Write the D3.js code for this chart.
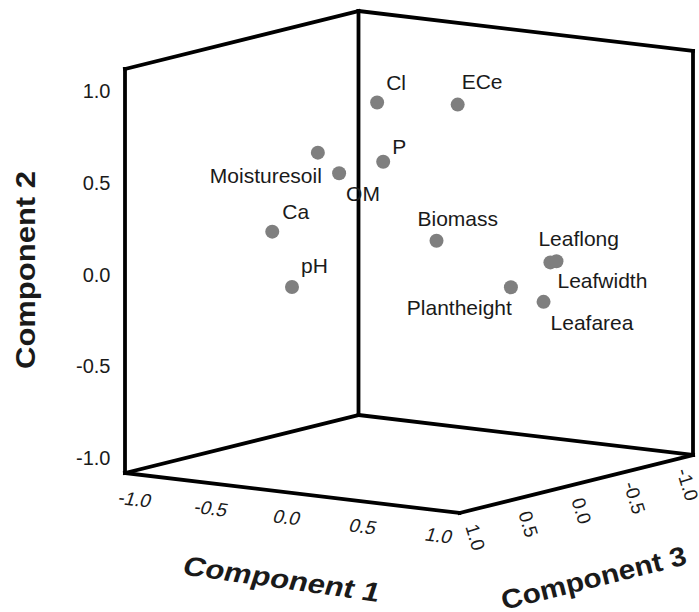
<!DOCTYPE html>
<html>
<head>
<meta charset="utf-8">
<script src="https://cdn.jsdelivr.net/npm/d3@7"></script>
<style>
  body { margin: 0; background: #fff; }
  text { font-family: "Liberation Sans", Arial, sans-serif; fill: #1a1a1a; }
</style>
</head>
<body>
<div id="chart"></div>
<script>
// component loadings
const variables  = ["Cl", "ECe", "Moisturesoil", "OM", "P", "Ca", "pH", "Biomass", "Leaflong", "Leafwidth", "Plantheight", "Leafarea"];
const component1 = [-0.07, 0.39, -0.39, -0.32, -0.10, -0.69, -0.63, 0.53, 0.93, 0.97, 0.74, 0.85];
const component2 = [0.89, 0.91, 0.60, 0.48, 0.55, 0.14, -0.17, 0.24, 0.09, 0.10, -0.05, -0.14];
const component3 = [0.20, 0.10, 0.30, 0.20, 0.10, 0.30, 0.20, 0.50, 0.00, 0.00, 0.10, -0.05];
const tickValues = [-1.0, -0.5, 0.0, 0.5, 1.0];

// where each label sits next to its dot: [anchor, dx, dy]
const labelPlacement = [
  ["start", 9, -13], ["start", 4, -16], ["end", 4, 30], ["start", 7, 28],
  ["start", 9, -8], ["start", 10, -13], ["start", 9, -14], ["start", -19, -15],
  ["start", -12, -16], ["start", 1, 27], ["end", 1, 28], ["start", 7, 28]
];

const width = 699, height = 612;
const R = 1.1;

// oblique box projection: origin is the (c1 min, c2 min, c3 max) corner
const origin = [125, 473];
const e1 = [334.5, 40];    // along component 1
const e2 = [0, -404];      // along component 2
const e3 = [233.5, -58];   // along component 3 (max -> min)

const s1 = d3.scaleLinear().domain([-R, R]).range([0, 1]);
const s2 = d3.scaleLinear().domain([-R, R]).range([0, 1]);
const s3 = d3.scaleLinear().domain([R, -R]).range([0, 1]);

function project(c1, c2, c3) {
  let a = s1(c1), b = s2(c2), c = s3(c3);
  return [origin[0] + a * e1[0] + b * e2[0] + c * e3[0],
          origin[1] + a * e1[1] + b * e2[1] + c * e3[1]];
}

// plain hyphen for negatives, like the original
var fmt = d => d3.format(".1f")(d).replace("\u2212", "-");

var svg = d3.select("#chart").append("svg")
    .attr("width", width)
    .attr("height", height);

// box edges: floor, back walls
var edges = [
  [[-R, -R, R], [R, -R, R]],
  [[R, -R, R], [R, -R, -R]],
  [[-R, -R, R], [-R, -R, -R]],
  [[-R, -R, -R], [R, -R, -R]],
  [[-R, -R, R], [-R, R, R]],
  [[-R, -R, -R], [-R, R, -R]],
  [[R, -R, -R], [R, R, -R]],
  [[-R, R, R], [-R, R, -R]],
  [[-R, R, -R], [R, R, -R]]
];

svg.append("g")
  .selectAll("line")
  .data(edges)
  .enter()
  .append("line")
  .attr("x1", d => project(...d[0])[0])
  .attr("y1", d => project(...d[0])[1])
  .attr("x2", d => project(...d[1])[0])
  .attr("y2", d => project(...d[1])[1])
  .attr("stroke", "#000")
  .attr("stroke-width", 3.8)
  .attr("stroke-linecap", "square");

// component 2 ticks (left wall edge)
svg.append("g")
  .selectAll("text")
  .data(tickValues)
  .enter()
  .append("text")
  .attr("x", d => project(-R, d, R)[0] - 14.5)
  .attr("y", d => project(-R, d, R)[1] + 10.5)
  .attr("text-anchor", "end")
  .style("font-size", "20px")
  .text(fmt);

// component 1 ticks (front-left floor edge)
svg.append("g")
  .selectAll("text")
  .data(tickValues)
  .enter()
  .append("text")
  .attr("transform", d => {
    let p = project(d, -R, R);
    return "translate(" + (p[0] - 5) + "," + (p[1] + 24) + ") rotate(7) skewX(-12)";
  })
  .attr("y", 7)
  .attr("text-anchor", "middle")
  .style("font-size", "19px")
  .text(fmt);

// component 3 ticks (front-right floor edge)
svg.append("g")
  .selectAll("text")
  .data(tickValues)
  .enter()
  .append("text")
  .attr("transform", d => {
    let p = project(R, -R, d);
    return "translate(" + (p[0] + 5.6) + "," + (p[1] + 26.8) + ") rotate(73)";
  })
  .attr("y", 7)
  .attr("text-anchor", "middle")
  .style("font-size", "19px")
  .text(fmt);

// points
var points = variables.map((name, i) => ({
  name: name,
  p: project(component1[i], component2[i], component3[i]),
  place: labelPlacement[i]
}));

svg.append("g")
  .selectAll("circle")
  .data(points)
  .enter()
  .append("circle")
  .attr("cx", d => d.p[0])
  .attr("cy", d => d.p[1])
  .attr("r", 7)
  .attr("fill", "#7f7f7f");

svg.append("g")
  .selectAll("text")
  .data(points)
  .enter()
  .append("text")
  .attr("x", d => d.p[0] + d.place[1])
  .attr("y", d => d.p[1] + d.place[2])
  .attr("text-anchor", d => d.place[0])
  .style("font-size", "21px")
  .text(d => d.name);

// axis titles
svg.append("text")
  .attr("transform", "translate(35,270) rotate(-90)")
  .attr("text-anchor", "middle")
  .attr("textLength", 198)
  .attr("lengthAdjust", "spacingAndGlyphs")
  .style("font-size", "27px")
  .style("font-weight", "bold")
  .text("Component 2");

svg.append("text")
  .attr("transform", "translate(279,588) rotate(8) skewX(-10)")
  .attr("text-anchor", "middle")
  .attr("textLength", 198)
  .attr("lengthAdjust", "spacingAndGlyphs")
  .style("font-size", "27px")
  .style("font-weight", "bold")
  .text("Component 1");

svg.append("text")
  .attr("transform", "translate(596,587) rotate(-14)")
  .attr("text-anchor", "middle")
  .attr("textLength", 190)
  .attr("lengthAdjust", "spacingAndGlyphs")
  .style("font-size", "27px")
  .style("font-weight", "bold")
  .text("Component 3");
</script>
</body>
</html>
